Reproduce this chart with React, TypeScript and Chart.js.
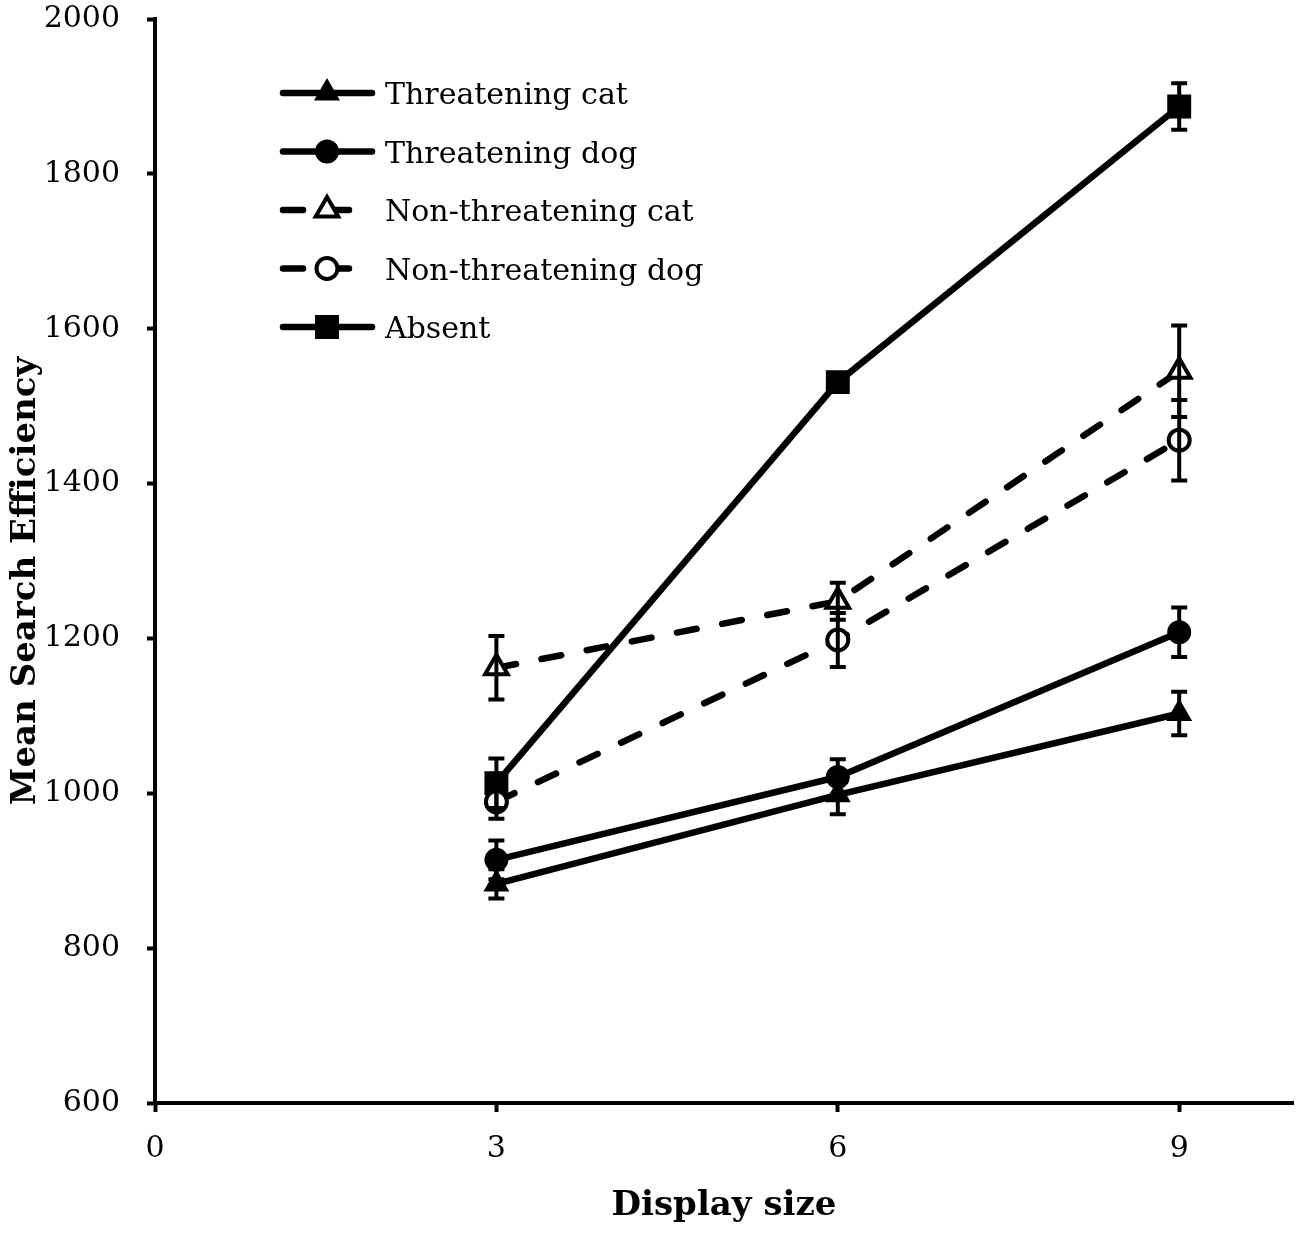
import React, { useEffect, useRef } from 'react';
import { Chart, registerables } from 'chart.js';

Chart.register(...registerables);

// ---- data ----
const displaySizes = [3, 6, 9];
const xTickValues = [0, 3, 6, 9];
const yTickValues = [600, 800, 1000, 1200, 1400, 1600, 1800, 2000];

const seriesLabels = [
  'Threatening cat',
  'Threatening dog',
  'Non-threatening cat',
  'Non-threatening dog',
  'Absent',
];

const threateningCat = [883, 998, 1103];
const threateningCatErr = [19, 25, 28];
const threateningDog = [914, 1021, 1208];
const threateningDogErr = [25, 23, 32];
const nonThreateningCat = [1162, 1248, 1545];
const nonThreateningCatErr = [41, 24, 59];
const nonThreateningDog = [989, 1198, 1456];
const nonThreateningDogErr = [22, 35, 52];
const absent = [1013, 1531, 1887];
const absentErr = [32, 10, 30];

const xTitle = 'Display size';
const yTitle = 'Mean Search Efficiency';

const SERIF = '"DejaVu Serif", serif';
const DASH = [20, 26];

function drawMarker(ctx: CanvasRenderingContext2D, style: string, x: number, y: number, r: number, fill: string, bw: number) {
  ctx.save();
  ctx.beginPath();
  if (style === 'circle') {
    ctx.arc(x, y, r, 0, Math.PI * 2);
  } else if (style === 'triangle') {
    let rad = 0;
    ctx.moveTo(x + Math.sin(rad) * r, y - Math.cos(rad) * r);
    rad += (2 * Math.PI) / 3;
    ctx.lineTo(x + Math.sin(rad) * r, y - Math.cos(rad) * r);
    rad += (2 * Math.PI) / 3;
    ctx.lineTo(x + Math.sin(rad) * r, y - Math.cos(rad) * r);
    ctx.closePath();
  } else {
    const s = Math.SQRT1_2 * r;
    ctx.rect(x - s, y - s, 2 * s, 2 * s);
  }
  ctx.fillStyle = fill;
  ctx.fill();
  ctx.setLineDash([]);
  ctx.lineWidth = bw;
  ctx.strokeStyle = '#000';
  ctx.stroke();
  ctx.restore();
}

const errorBarPlugin = {
  id: 'errorBars',
  afterDatasetsDraw(chart: any) {
    const ctx = chart.ctx as CanvasRenderingContext2D;
    const ys = chart.scales.y;
    chart.data.datasets.forEach((ds: any, di: number) => {
      const meta = chart.getDatasetMeta(di);
      meta.data.forEach((pt: any, i: number) => {
        const v = ds.data[i].y;
        const e = ds.errors[i];
        const x = pt.x;
        const yTop = ys.getPixelForValue(v + e);
        const yBot = ys.getPixelForValue(v - e);
        ctx.save();
        ctx.strokeStyle = '#000';
        ctx.lineWidth = 4;
        ctx.lineCap = 'butt';
        ctx.setLineDash([]);
        ctx.beginPath();
        ctx.moveTo(x, yTop);
        ctx.lineTo(x, yBot);
        ctx.moveTo(x - 8, yTop);
        ctx.lineTo(x + 8, yTop);
        ctx.moveTo(x - 8, yBot);
        ctx.lineTo(x + 8, yBot);
        ctx.stroke();
        ctx.restore();
      });
    });
  },
};

const legendAndTitlePlugin = {
  id: 'lineLegend',
  afterDraw(chart: any) {
    const ctx = chart.ctx as CanvasRenderingContext2D;
    const area = chart.chartArea;
    const left = area.left + 125;
    const top = area.top + 74;
    const rowH = 58.5;
    chart.data.datasets.forEach((ds: any, i: number) => {
      const y = top + i * rowH;
      ctx.save();
      ctx.strokeStyle = '#000';
      ctx.lineWidth = ds.borderWidth;
      ctx.lineCap = 'round';
      ctx.setLineDash(ds.borderDash || []);
      ctx.beginPath();
      ctx.moveTo(left + 3, y);
      ctx.lineTo(left + 92, y);
      ctx.stroke();
      ctx.restore();
      drawMarker(ctx, ds.pointStyle, left + 47, y, ds.pointRadius, ds.pointBackgroundColor, ds.pointBorderWidth);
      ctx.save();
      ctx.fillStyle = '#000';
      ctx.font = `30px ${SERIF}`;
      ctx.textAlign = 'left';
      ctx.textBaseline = 'alphabetic';
      ctx.fillText(ds.label, left + 105, y + 11);
      ctx.restore();
    });
    // y-axis title
    ctx.save();
    ctx.translate(area.left - 120, area.bottom - 522);
    ctx.rotate(-Math.PI / 2);
    ctx.fillStyle = '#000';
    ctx.font = `bold 34px ${SERIF}`;
    ctx.textAlign = 'center';
    ctx.textBaseline = 'alphabetic';
    ctx.fillText(yTitle, 0, 0);
    ctx.restore();
  },
};

function makeDataset(label: string, values: number[], errs: number[], pointStyle: string, filled: boolean, dashed: boolean, radius: number) {
  return {
    label,
    data: displaySizes.map((x, i) => ({ x, y: values[i] })),
    errors: errs,
    borderColor: '#000',
    backgroundColor: filled ? '#000' : '#fff',
    borderWidth: 6.5,
    borderDash: dashed ? DASH : [],
    borderCapStyle: 'round',
    borderJoinStyle: 'round',
    pointStyle,
    pointRadius: radius,
    pointHoverRadius: radius,
    pointBorderWidth: filled ? 2 : 4,
    pointBackgroundColor: filled ? '#000' : '#fff',
    pointBorderColor: '#000',
    showLine: true,
    tension: 0,
    fill: false,
    clip: false,
  };
}

export default function App() {
  const ref = useRef<HTMLCanvasElement | null>(null);
  useEffect(() => {
    if (!ref.current) return;
    const chart = new Chart(ref.current, {
      type: 'line',
      data: {
        datasets: [
          makeDataset(seriesLabels[0], threateningCat, threateningCatErr, 'triangle', true, false, 13),
          makeDataset(seriesLabels[1], threateningDog, threateningDogErr, 'circle', true, false, 11),
          makeDataset(seriesLabels[2], nonThreateningCat, nonThreateningCatErr, 'triangle', false, true, 13),
          makeDataset(seriesLabels[3], nonThreateningDog, nonThreateningDogErr, 'circle', false, true, 10.5),
          makeDataset(seriesLabels[4], absent, absentErr, 'rect', true, false, 15.5),
        ] as any,
      },
      options: {
        responsive: false,
        animation: false,
        devicePixelRatio: 1,
        layout: { autoPadding: false, padding: { left: 0, top: 19, right: 7, bottom: 0 } },
        plugins: {
          legend: { display: false },
          tooltip: { enabled: false },
          title: { display: false },
        },
        scales: {
          x: {
            type: 'linear',
            min: 0,
            max: 10,
            afterBuildTicks: (scale: any) => {
              scale.ticks = xTickValues.map((v) => ({ value: v }));
            },
            afterFit: (scale: any) => {
              scale.height = 132;
              scale.paddingLeft = 0;
              scale.paddingRight = 0;
            },
            ticks: {
              color: '#000',
              font: { family: SERIF, size: 30, lineHeight: 1 },
              padding: 22,
              maxRotation: 0,
              autoSkip: false,
              callback: (v: any) => String(v),
            },
            grid: {
              display: true,
              drawOnChartArea: false,
              drawTicks: true,
              tickLength: 9,
              tickWidth: 4,
              color: '#000',
            },
            border: { display: true, color: '#000', width: 4 },
            title: {
              display: true,
              text: xTitle,
              color: '#000',
              font: { family: SERIF, size: 34, weight: 'bold', lineHeight: 1.2 },
              padding: { top: 0, bottom: 8 },
            },
          },
          y: {
            type: 'linear',
            min: yTickValues[0],
            max: yTickValues[yTickValues.length - 1],
            afterBuildTicks: (scale: any) => {
              scale.ticks = yTickValues.map((v) => ({ value: v }));
            },
            afterFit: (scale: any) => {
              scale.width = 155;
              scale.paddingTop = 0;
              scale.paddingBottom = 0;
            },
            ticks: {
              color: '#000',
              font: { family: SERIF, size: 30, lineHeight: 1 },
              padding: 27,
              autoSkip: false,
              callback: (v: any) => String(v),
            },
            grid: {
              display: true,
              drawOnChartArea: false,
              drawTicks: true,
              tickLength: 8,
              tickWidth: 4,
              color: '#000',
            },
            border: { display: true, color: '#000', width: 4 },
          },
        },
      } as any,
      plugins: [errorBarPlugin, legendAndTitlePlugin],
    });
    return () => chart.destroy();
  }, []);

  return (
    <div style={{ position: 'absolute', left: 0, top: 0, width: 1300, height: 1235, background: '#fff' }}>
      <canvas ref={ref} width={1300} height={1235} />
    </div>
  );
}
